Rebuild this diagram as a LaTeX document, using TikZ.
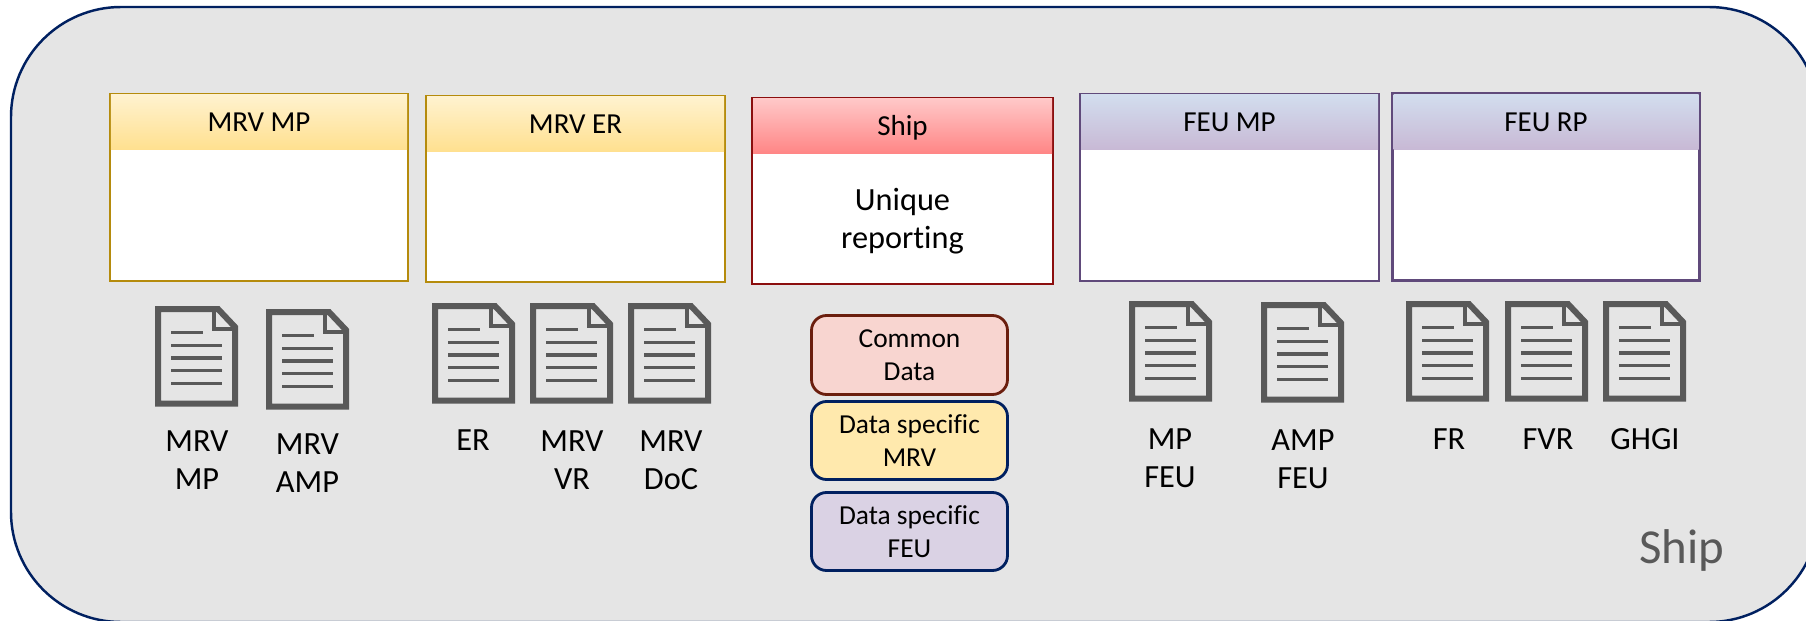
\documentclass[tikz,border=0pt]{standalone}
\usepackage{fontspec}
\setmainfont[Ligatures=NoCommon]{Carlito}
\definecolor{shipbg}{HTML}{E5E5E5}
\definecolor{navy}{HTML}{002060}
\definecolor{docgray}{HTML}{595959}
\definecolor{yline}{HTML}{B58B0C}
\definecolor{rline}{HTML}{8B0E0E}
\definecolor{pline}{HTML}{604A7B}
\definecolor{ytop}{HTML}{FFF2CF}
\definecolor{ybot}{HTML}{FFE08F}
\definecolor{rtop}{HTML}{FFC8C8}
\definecolor{rbot}{HTML}{FF8585}
\definecolor{ptop}{HTML}{D2DDEE}
\definecolor{pbot}{HTML}{C8B9D5}
\definecolor{cline}{HTML}{6B1E0E}
\definecolor{cfill}{HTML}{F8D5D0}
\definecolor{mfill}{HTML}{FFE9AD}
\definecolor{ffill}{HTML}{DAD2E4}
\tikzset{
	pics/doc/.style = {
		code = {
			\draw[docgray, line width=0.06cm, miter limit=4] (0.03,-0.03) -- (0.63,-0.03) -- (0.80,-0.21) -- (0.80,-0.975) -- (0.03,-0.975) -- cycle;
			\draw[docgray, line width=0.04cm] (0.593,-0.04) -- (0.593,-0.233) -- (0.79,-0.233);
			\draw[docgray, line width=0.032cm] (0.16,-0.267) -- (0.48,-0.267);
			\foreach \y in {-0.393,-0.520,-0.647,-0.773}
				\draw[docgray, line width=0.032cm] (0.16,\y) -- (0.673,\y);
		}
	}
}
\begin{document}
\begin{tikzpicture}[
		regbody/.style = {
			rectangle,
			draw = #1,
			fill = white,
			line width = 0.65pt,
			inner sep = 0pt
		},
		reghead/.style 2 args = {
			rectangle,
			top color = #1,
			bottom color = #2,
			minimum height = 0.55cm,
			text height = 1.9mm,
			text depth = 0pt,
			inner sep = 0pt,
			font = \fontsize{8.25}{10}\selectfont
		},
		databox/.style 2 args = {
			rectangle,
			rounded corners = 0.15cm,
			draw = #1,
			fill = #2,
			line width = 0.8pt,
			minimum width = 1.96cm,
			minimum height = 0.78cm,
			inner sep = 0pt,
			align = center,
			font = \fontsize{7.8}{9.4}\selectfont
		},
		doclabel/.style = {
			align = center,
			inner sep = 0pt,
			font = \fontsize{9.2}{10.8}\selectfont
		}
	]
	\clip (0,0) rectangle (18.06,6.2);
	\node[rectangle, rounded corners=1.1cm, draw=navy, fill=shipbg, line width=0.7pt, minimum width=18.08cm, minimum height=6.15cm] (SHIP) at (9.15,3.055) {};
	\node[anchor=center, text=docgray, inner sep=0pt, font=\fontsize{13.9}{16}\selectfont] (SHIPLBL) at (16.82,0.70) {Ship};

	% registers
	\node[regbody=yline, minimum width=2.98cm, minimum height=1.87cm] (MP) at (2.59,4.325) {};
	\node[reghead={ytop}{ybot}, minimum width=2.96cm, anchor=north, yshift=-0.33pt] (MPH) at (MP.north) {MRV MP};
	\node[regbody=yline, minimum width=2.99cm, minimum height=1.86cm] (ER) at (5.755,4.31) {};
	\node[reghead={ytop}{ybot}, minimum width=2.97cm, anchor=north, yshift=-0.33pt] (ERH) at (ER.north) {MRV ER};
	\node[regbody=rline, minimum width=3.01cm, minimum height=1.86cm] (SH) at (9.025,4.29) {};
	\node[reghead={rtop}{rbot}, minimum width=2.99cm, anchor=north, yshift=-0.33pt] (SHH) at (SH.north) {Ship};
	\node[regbody=pline, minimum width=2.99cm, minimum height=1.87cm] (FM) at (12.295,4.325) {};
	\node[reghead={ptop}{pbot}, minimum width=2.97cm, anchor=north, yshift=-0.33pt] (FMH) at (FM.north) {FEU MP};
	\node[regbody=pline, minimum width=3.07cm, minimum height=1.87cm] (FR) at (15.46,4.33) {};
	\node[reghead={ptop}{pbot}, minimum width=3.05cm, anchor=north, yshift=-0.33pt] (FRH) at (FR.north) {FEU RP};
	\node[doclabel] (UNIQ) at (9.025,3.99) {Unique\\reporting};

	% data kinds
	\node[databox={cline}{cfill}, minimum height=0.79cm] (COMMON) at (9.095,2.65) {Common\\Data};
	\node[databox={navy}{mfill}] (SPECMRV) at (9.095,1.795) {Data specific\\MRV};
	\node[databox={navy}{ffill}] (SPECFEU) at (9.095,0.885) {Data specific\\FEU};

	% documents
	\pic at (1.55,3.14) {doc};
	\pic at (2.66,3.11) {doc};
	\pic at (4.32,3.17) {doc};
	\pic at (5.30,3.17) {doc};
	\pic at (6.28,3.17) {doc};
	\pic at (11.29,3.19) {doc};
	\pic at (12.61,3.18) {doc};
	\pic at (14.06,3.19) {doc};
	\pic at (15.05,3.19) {doc};
	\pic at (16.03,3.19) {doc};

	\node[doclabel] (L1) at (1.97,1.60) {MRV\\MP};
	\node[doclabel] (L2) at (3.075,1.57) {MRV\\AMP};
	\node[doclabel] (L3) at (4.73,1.80) {ER};
	\node[doclabel] (L4) at (5.72,1.60) {MRV\\VR};
	\node[doclabel] (L5) at (6.71,1.60) {MRV\\DoC};
	\node[doclabel] (L6) at (11.70,1.62) {MP\\FEU};
	\node[doclabel] (L7) at (13.03,1.61) {AMP\\FEU};
	\node[doclabel] (L8) at (14.49,1.81) {FR};
	\node[doclabel] (L9) at (15.48,1.81) {FVR};
	\node[doclabel] (L10) at (16.45,1.81) {GHGI};
\end{tikzpicture}
\end{document}
